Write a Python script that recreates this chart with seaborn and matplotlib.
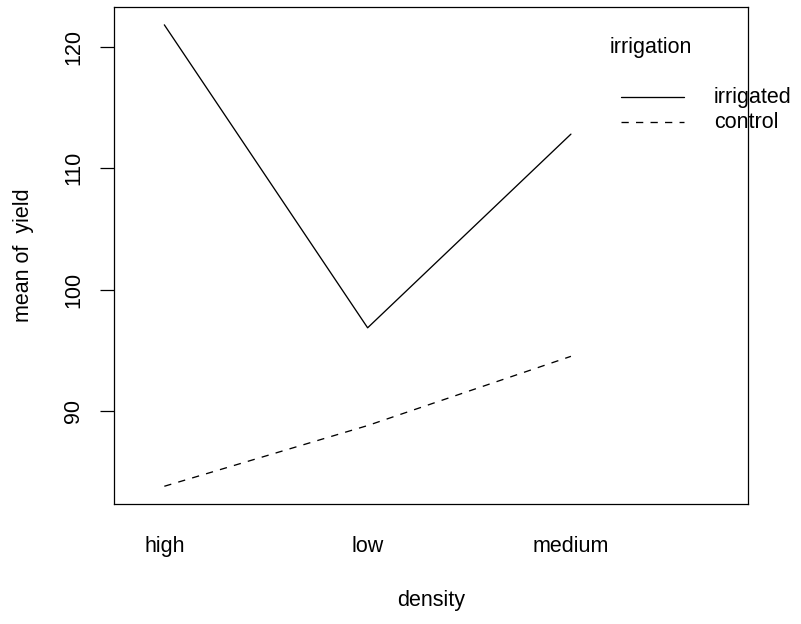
import matplotlib
matplotlib.use("Agg")
import matplotlib.pyplot as plt
from matplotlib.lines import Line2D
import seaborn as sns
import pandas as pd

density = ["high", "low", "medium"]
irrigated = [121.8, 96.85, 112.8]
control = [83.8, 88.8, 94.5]
groups = ["irrigated", "control"]
yticks = [90, 100, 110, 120]

df = pd.DataFrame({
    "density": density * 2,
    "yield": irrigated + control,
    "irrigation": [groups[0]] * 3 + [groups[1]] * 3,
})

sns.set_theme(style="white")
plt.rcParams["font.family"] = ["Liberation Sans", "DejaVu Sans"]
FS = 15.5

W, H, DPI = 801, 624, 100
fig = plt.figure(figsize=(W / DPI, H / DPI), dpi=DPI)
ax = fig.add_axes([113.5 / W, 1 - 504 / H, (748 - 113.5) / W, (504 - 7) / H])

LW = 0.95
sns.lineplot(data=df, x="density", y="yield", hue="irrigation", style="irrigation",
             palette={"irrigated": "black", "control": "black"},
             dashes={"irrigated": "", "control": (5.5, 5.5)},
             linewidth=LW, ax=ax, legend=False, sort=False)

ax.set_xlim(-0.25, 2.871)
ax.set_ylim(82.34, 123.27)
ax.set_yticks(yticks)
ax.set_yticklabels([str(v) for v in yticks], rotation=90, va="center", fontsize=FS, color="black")
ax.set_xticks(range(len(density)))
ax.set_xticklabels(density, fontsize=FS, color="black")
ax.tick_params(axis="y", which="both", left=True, length=10, width=0.9, color="black", pad=11)
ax.tick_params(axis="x", which="both", bottom=False, length=0, pad=23)
for s in ax.spines.values():
    s.set_color("black")
    s.set_linewidth(0.9)
ax.grid(False)
ax.set_xlabel("density", fontsize=FS, color="black", labelpad=24)
ax.set_ylabel("mean of  yield", fontsize=FS, color="black", labelpad=21)

# legend (drawn as in R's interaction.plot, overlapping the box edge)
tf = fig.transFigure
fig.text(610 / W, 1 - 47 / H, "irrigation", fontsize=FS, va="center", ha="left", color="black")
for i, (lab, ls) in enumerate(zip(groups, ["-", (0, (5.5, 5.5))])):
    yy = 1 - (97 + 25 * i) / H
    fig.add_artist(Line2D([621 / W, 684 / W], [yy, yy], transform=tf, color="black",
                          linewidth=LW, linestyle=ls))
    fig.text(714 / W, yy, lab, fontsize=FS, va="center", ha="left", color="black")

fig.savefig("out.png", dpi=DPI, facecolor="white")
